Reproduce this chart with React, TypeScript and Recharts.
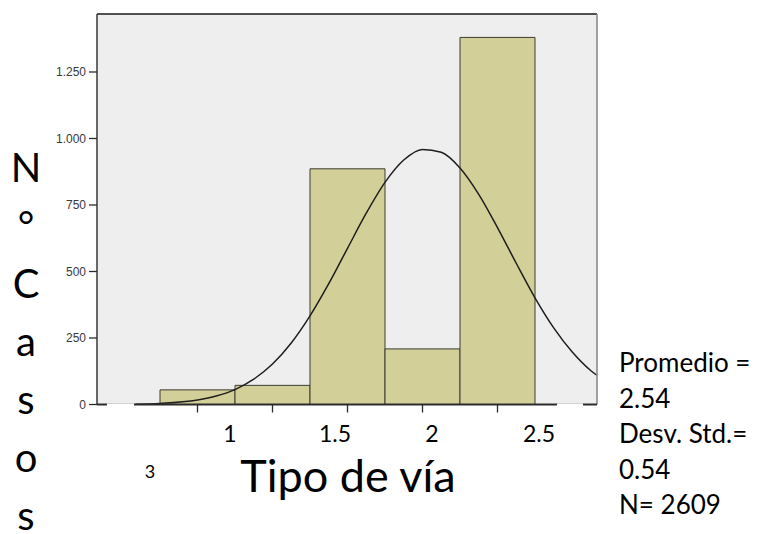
import React from "react";
import {
  Bar,
  CartesianGrid,
  ComposedChart,
  Line,
  ReferenceLine,
  XAxis,
  YAxis,
} from "recharts";

// histogram: Tipo de vía (codes 1..5)
const categories = [1, 2, 3, 4, 5];
const counts = [55, 72, 886, 209, 1380];

// normal curve
const curveX = [
  0.17, 0.5, 1, 1.25, 1.5, 1.75, 2, 2.25, 2.5, 2.75, 3, 3.25, 3.5, 3.75, 4,
  4.25, 4.5, 4.75, 5, 5.25, 5.5, 5.75, 6, 6.25, 6.33,
];
const curveY = [
  1, 4, 17, 32, 56, 95, 152, 231, 333, 454, 587, 719, 835, 919, 959, 948, 889,
  790, 665, 531, 401, 288, 196, 126, 109,
];

const yTicks = [0, 250, 500, 750, 1000, 1250];
const yTickLabels = ["0", "250", "500", "750", "1.000", "1.250"];

// text pasted over the original axis labels
const overlayTickLabels = ["1", "1.5", "2", "2.5"];
const yTitleLetters = ["N", "°", "C", "a", "s", "o", "s"];
const statsLines = ["Promedio =", "2.54", "Desv. Std.=", "0.54", "N= 2609"];

const barData = categories.map((x, i) => ({ x, count: counts[i] }));
const curveData = curveX.map((x, i) => ({ x, curve: curveY[i] }));

// curve axis spans the whole grey panel; bars sit on a band axis inside it
const X_DOMAIN: [number, number] = [-0.34, 6.327];
const Y_DOMAIN: [number, number] = [0, 1468];
const FONT = "Lato, 'Noto Sans', sans-serif";

const noTick = () => <g />;

export default function App() {
  return (
    <div
      style={{
        position: "absolute",
        left: 0,
        top: 0,
        width: 757,
        height: 534,
        background: "#ffffff",
        overflow: "hidden",
      }}
    >
      <ComposedChart
        width={757}
        height={534}
        data={barData}
        barCategoryGap={0}
        barGap={0}
        margin={{ top: 14, right: 160, bottom: 109.5, left: 0 }}
      >
        <CartesianGrid horizontal={false} vertical={false} fill="#eeeeee" />
        <XAxis
          dataKey="x"
          type="category"
          padding={{ left: 63, right: 62 }}
          tick={noTick}
          tickSize={8}
          height={20}
          axisLine={{ stroke: "#2b2b2b", strokeWidth: 2 }}
          tickLine={{ stroke: "#2b2b2b", strokeWidth: 1.3 }}
        />
        <XAxis
          xAxisId="curve"
          dataKey="x"
          type="number"
          domain={X_DOMAIN}
          allowDataOverflow
          hide
        />
        <YAxis
          type="number"
          domain={Y_DOMAIN}
          allowDataOverflow
          ticks={yTicks}
          width={97}
          tickSize={8}
          tickMargin={3}
          tickFormatter={(v: number) => yTickLabels[yTicks.indexOf(v)] ?? String(v)}
          tick={{ fontSize: 12, fill: "#3a3a3a", fontFamily: "'Liberation Sans', Arial, sans-serif" }}
          axisLine={{ stroke: "#2b2b2b", strokeWidth: 1.4 }}
          tickLine={{ stroke: "#2b2b2b", strokeWidth: 1.3 }}
        />
        <Bar
          dataKey="count"
          fill="#d3cf98"
          stroke="#3c3c32"
          strokeWidth={1}
          isAnimationActive={false}
        />
        <Line
          xAxisId="curve"
          data={curveData}
          dataKey="curve"
          type="monotone"
          dot={false}
          activeDot={false}
          stroke="#1e1e1e"
          strokeWidth={1.5}
          isAnimationActive={false}
        />
        {/* frame: dark top, grey right */}
        <ReferenceLine
          xAxisId="curve"
          y={Y_DOMAIN[1]}
          stroke="#1a1a1a"
          strokeWidth={1.6}
          ifOverflow="visible"
        />
        <ReferenceLine
          xAxisId="curve"
          x={X_DOMAIN[1]}
          stroke="#8a8a8a"
          strokeWidth={1.6}
          ifOverflow="visible"
        />
      </ComposedChart>

      <svg
        width={757}
        height={534}
        style={{ position: "absolute", left: 0, top: 0, pointerEvents: "none" }}
      >
        {/* white boxes of the pasted labels cut the axis line */}
        <rect x={107} y={403.4} width={27} height={3} fill="#ffffff" />
        <rect x={557} y={403.4} width={26} height={3} fill="#ffffff" />

        {yTitleLetters.map((ch, i) => (
          <text
            key={i}
            x={26}
            y={182 + i * 58}
            textAnchor="middle"
            fontFamily={FONT}
            fontSize={40}
            fill="#000"
          >
            {ch}
          </text>
        ))}

        {overlayTickLabels.map((t, i) => (
          <text
            key={t}
            x={[230, 335, 432, 539][i]}
            y={442}
            textAnchor="middle"
            fontFamily={FONT}
            fontSize={23}
            fill="#000"
          >
            {t}
          </text>
        ))}
        <text x={150} y={478} textAnchor="middle" fontFamily={FONT} fontSize={18} fill="#000">
          3
        </text>
        <text x={348} y={492} textAnchor="middle" fontFamily={FONT} fontSize={45} fill="#000">
          Tipo de vía
        </text>

        {statsLines.map((line, i) => (
          <text
            key={line}
            x={619}
            y={372 + i * 35.5}
            fontFamily={FONT}
            fontSize={26}
            fill="#000"
          >
            {line}
          </text>
        ))}
      </svg>
    </div>
  );
}
